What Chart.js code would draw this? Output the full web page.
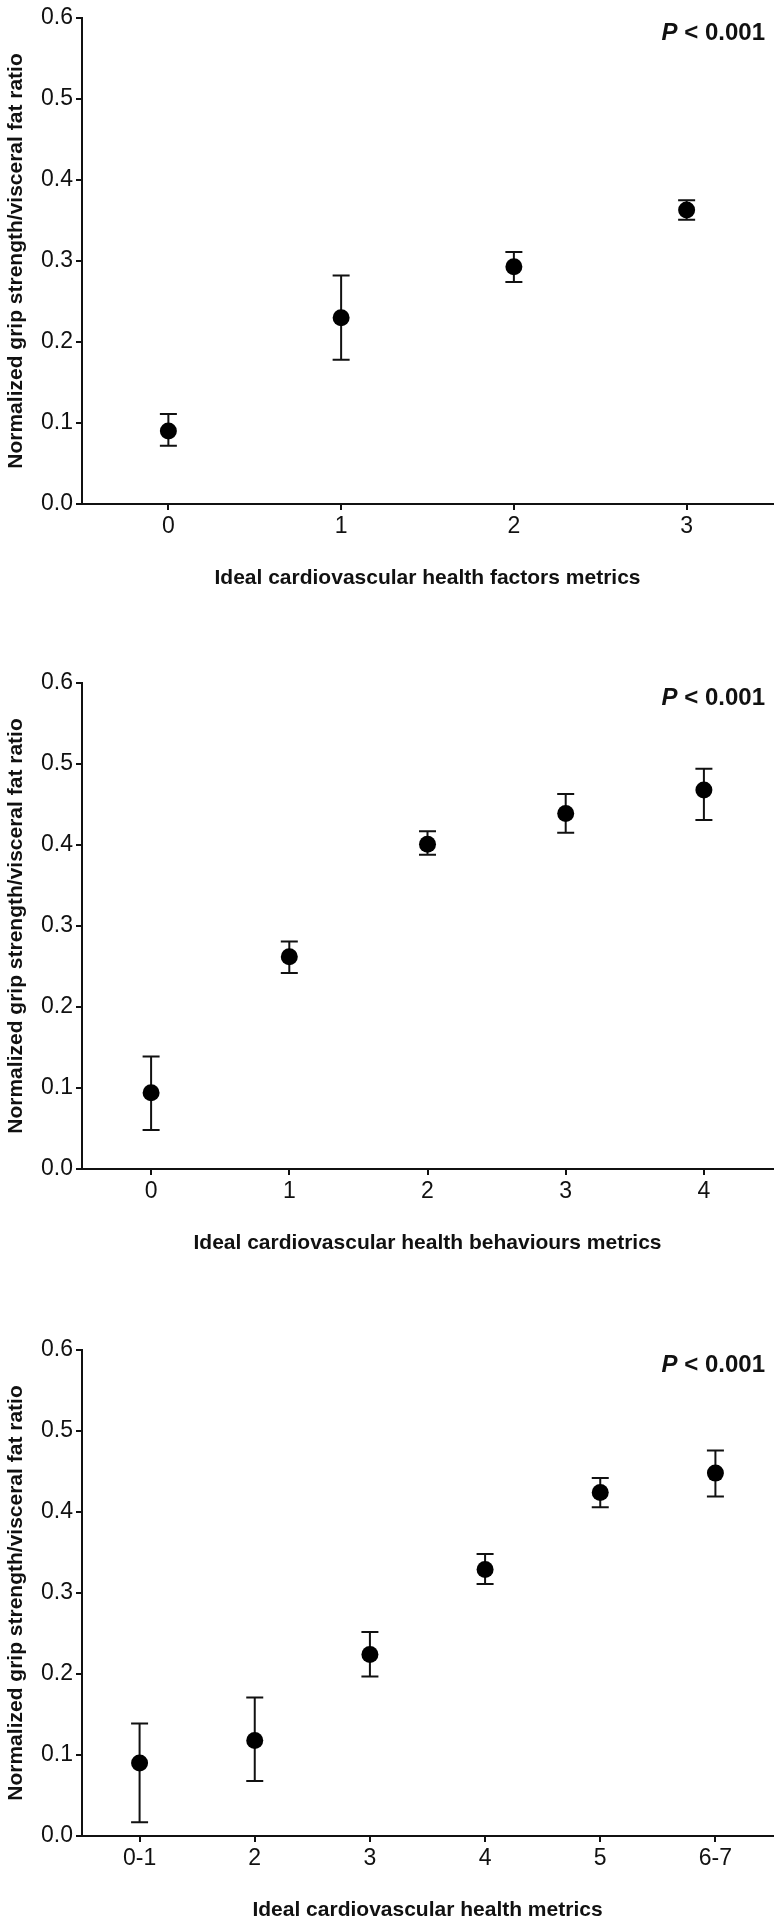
<!DOCTYPE html>
<html>
<head>
<meta charset="utf-8">
<script src="https://cdn.jsdelivr.net/npm/chart.js@4.4.1/dist/chart.umd.min.js"></script>
<style>
body{margin:0;background:#fff;width:782px;height:1925px;overflow:hidden;position:relative}
.panel{position:absolute;left:0;width:782px;height:593px}
canvas{display:block}
</style>
</head>
<body>
<div class="panel" style="top:0px"><canvas id="factors" width="782" height="593"></canvas></div>
<div class="panel" style="top:665px"><canvas id="behaviours" width="782" height="593"></canvas></div>
<div class="panel" style="top:1332px"><canvas id="total" width="782" height="593"></canvas></div>
<script>
const yTitle = 'Normalized grip strength/visceral fat ratio'
const pLabel = ' < 0.001'
const yTicks = [0, 0.1, 0.2, 0.3, 0.4, 0.5, 0.6]

// panel 1 - health factors
const factorsLabels = ['0', '1', '2', '3']
const factorsMean = [0.090, 0.230, 0.293, 0.363]
const factorsLow = [0.072, 0.178, 0.274, 0.351]
const factorsHigh = [0.111, 0.282, 0.311, 0.375]

// panel 2 - health behaviours
const behavioursLabels = ['0', '1', '2', '3', '4']
const behavioursMean = [0.094, 0.262, 0.401, 0.439, 0.468]
const behavioursLow = [0.048, 0.242, 0.388, 0.415, 0.431]
const behavioursHigh = [0.139, 0.281, 0.417, 0.463, 0.494]

// panel 3 - all metrics
const totalLabels = ['0-1', '2', '3', '4', '5', '6-7']
const totalMean = [0.090, 0.118, 0.224, 0.329, 0.424, 0.448]
const totalLow = [0.017, 0.068, 0.197, 0.311, 0.406, 0.419]
const totalHigh = [0.139, 0.171, 0.252, 0.348, 0.442, 0.476]

const FONT = '"Liberation Sans", Arial, sans-serif'
const INK = '#111'

const errorBars = {
    id: 'errorBars',
    beforeDatasetsDraw(chart) {
        const ctx = chart.ctx
        const x = chart.scales.x
        const y = chart.scales.y
        const ds = chart.data.datasets[0]
        ctx.save()
        ctx.strokeStyle = INK
        ctx.lineWidth = 2
        ds.errLow.forEach((lo, i) => {
            const px = x.getPixelForValue(i)
            const top = y.getPixelForValue(ds.errHigh[i])
            const bot = y.getPixelForValue(lo)
            ctx.beginPath()
            ctx.moveTo(px, top)
            ctx.lineTo(px, bot)
            ctx.moveTo(px - 8.5, top)
            ctx.lineTo(px + 8.5, top)
            ctx.moveTo(px - 8.5, bot)
            ctx.lineTo(px + 8.5, bot)
            ctx.stroke()
        })
        ctx.restore()
    }
}

const pValue = {
    id: 'pValue',
    afterDraw(chart) {
        const ctx = chart.ctx
        const area = chart.chartArea
        const x = area.right - 8
        const y = area.top + 15
        ctx.save()
        ctx.fillStyle = INK
        ctx.textBaseline = 'middle'
        ctx.textAlign = 'right'
        ctx.font = 'bold 24px ' + FONT
        ctx.fillText(pLabel, x, y)
        const w = ctx.measureText(pLabel).width
        ctx.font = 'italic bold 24px ' + FONT
        ctx.fillText('P', x - w, y)
        ctx.restore()
    }
}

function makeChart(id, labels, mean, low, high, xTitle) {
    return new Chart(document.getElementById(id), {
        type: 'line',
        data: {
            labels: labels,
            datasets: [{
                data: mean,
                errLow: low,
                errHigh: high,
                showLine: false,
                pointRadius: 8.5,
                pointBackgroundColor: '#000',
                pointBorderColor: '#000',
                pointBorderWidth: 0
            }]
        },
        options: {
            responsive: false,
            animation: false,
            events: [],
            layout: { padding: { top: 18, right: 9, left: 0, bottom: 0 } },
            plugins: { legend: { display: false }, tooltip: { enabled: false } },
            scales: {
                x: {
                    type: 'category',
                    offset: true,
                    afterFit: (s) => { s.height = 89 },
                    grid: { offset: false, drawOnChartArea: false, drawTicks: true, tickLength: 6, color: INK, lineWidth: 2 },
                    border: { display: true, color: INK, width: 2 },
                    ticks: { color: INK, padding: 3, font: { family: FONT, size: 23 } },
                    title: {
                        display: true, text: xTitle, color: INK,
                        padding: { top: 0, bottom: 2 },
                        font: { family: FONT, size: 21, weight: 'bold' }
                    }
                },
                y: {
                    min: 0,
                    max: 0.6,
                    afterFit: (s) => { s.width = 82 },
                    afterBuildTicks: (s) => { s.ticks = yTicks.map(v => ({ value: v })) },
                    grid: { drawOnChartArea: false, drawTicks: true, tickLength: 6, color: INK, lineWidth: 2 },
                    border: { display: true, color: INK, width: 2 },
                    ticks: { color: INK, padding: 3, font: { family: FONT, size: 23 }, callback: (v) => Number(v).toFixed(1) },
                    title: {
                        display: true, text: yTitle, color: INK,
                        padding: { top: 4, bottom: 0 },
                        font: { family: FONT, size: 21, weight: 'bold' }
                    }
                }
            }
        },
        plugins: [errorBars, pValue]
    })
}

makeChart('factors', factorsLabels, factorsMean, factorsLow, factorsHigh, 'Ideal cardiovascular health factors metrics')
makeChart('behaviours', behavioursLabels, behavioursMean, behavioursLow, behavioursHigh, 'Ideal cardiovascular health behaviours metrics')
makeChart('total', totalLabels, totalMean, totalLow, totalHigh, 'Ideal cardiovascular health metrics')
</script>
</body>
</html>
